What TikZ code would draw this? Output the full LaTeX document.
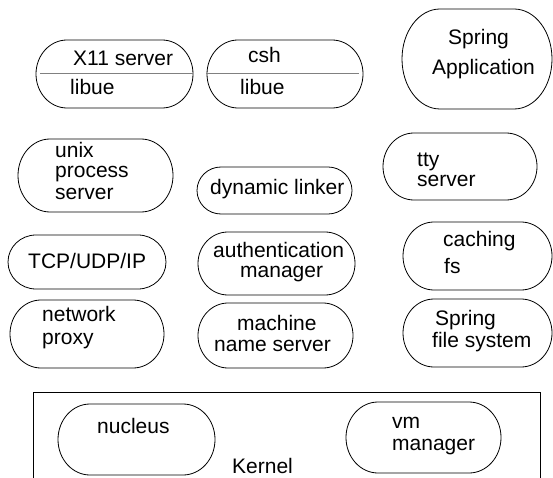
\documentclass[tikz,border=0pt]{standalone}
\usepackage{fontspec}
\setmainfont{Liberation Sans}

\tikzset{
  capsule/.style={draw=black, line width=0.8pt},
  divider/.style={draw=gray, line width=0.7pt},
  lbl/.style={font=\fontsize{21}{25}\selectfont, anchor=base west, inner sep=0pt}
}

\begin{document}
\begin{tikzpicture}[x=1pt, y=-1pt]
  \useasboundingbox (0,0) rectangle (553,478);

  \foreach \xa/\ya/\xb/\yb/\rx in {36/40/193/108/31, 207/40/363/108/31, 402/9/552/109/38,
      18/139/173/212/32, 197/167/352/214/24, 383/133/537/200/31,
      8/235/166/289/28, 198/232/355/295/30, 403/222/552/290/31,
      10/300/164/368/31, 198/303/353/368/30, 403/299/552/367/31,
      58/404/215/475/32, 346/402/501/473/32}{
    \draw[capsule] (\xa+\rx,\ya) -- (\xb-\rx,\ya)
      arc[start angle=-90, end angle=90, x radius=\rx, y radius={(\yb-\ya)/2}]
      -- (\xa+\rx,\yb)
      arc[start angle=90, end angle=270, x radius=\rx, y radius={(\yb-\ya)/2}] -- cycle;
  }

  \draw[divider] (40,73) -- (193,73);
  \draw[divider] (206,73) -- (359,73);

  \draw[line width=0.8pt] (33.5,478) -- (33.5,392) -- (540,392) -- (540,478);

  \node[lbl] (x11srv) at (73,66) {X11 server};
  \node[lbl] (x11lib) at (70,95) {libue};
  \node[lbl] (cshtop) at (248,63) {csh};
  \node[lbl] (cshlib) at (240,95) {libue};
  \node[lbl] (sprapp1) at (448,45) {Spring};
  \node[lbl] (sprapp2) at (432,75) {Application};

  \node[lbl] (unix1) at (55,158) {unix};
  \node[lbl] (unix2) at (55,178) {process};
  \node[lbl] (unix3) at (55,200) {server};
  \node[lbl] (dynlink) at (210,195) {dynamic linker};
  \node[lbl] (tty1) at (417,167) {tty};
  \node[lbl] (tty2) at (417,187) {server};

  \node[lbl] (tcpip) at (28,268) {TCP/UDP/IP};
  \node[lbl] (auth1) at (213,257) {authentication};
  \node[lbl] (auth2) at (240,277) {manager};
  \node[lbl] (cache1) at (443,246) {caching};
  \node[lbl] (cache2) at (444,273) {fs};

  \node[lbl] (netpx1) at (42,321) {network};
  \node[lbl] (netpx2) at (42,344) {proxy};
  \node[lbl] (mname1) at (237,330) {machine};
  \node[lbl] (mname2) at (214,351) {name server};
  \node[lbl] (sprfs1) at (435,325) {Spring};
  \node[lbl] (sprfs2) at (432,347) {file system};

  \node[lbl] (nucleus) at (97,433) {nucleus};
  \node[lbl] (vmmgr1) at (392,428) {vm};
  \node[lbl] (vmmgr2) at (392,450) {manager};
  \node[lbl] (kernel) at (232,473) {Kernel};

\end{tikzpicture}
\end{document}
